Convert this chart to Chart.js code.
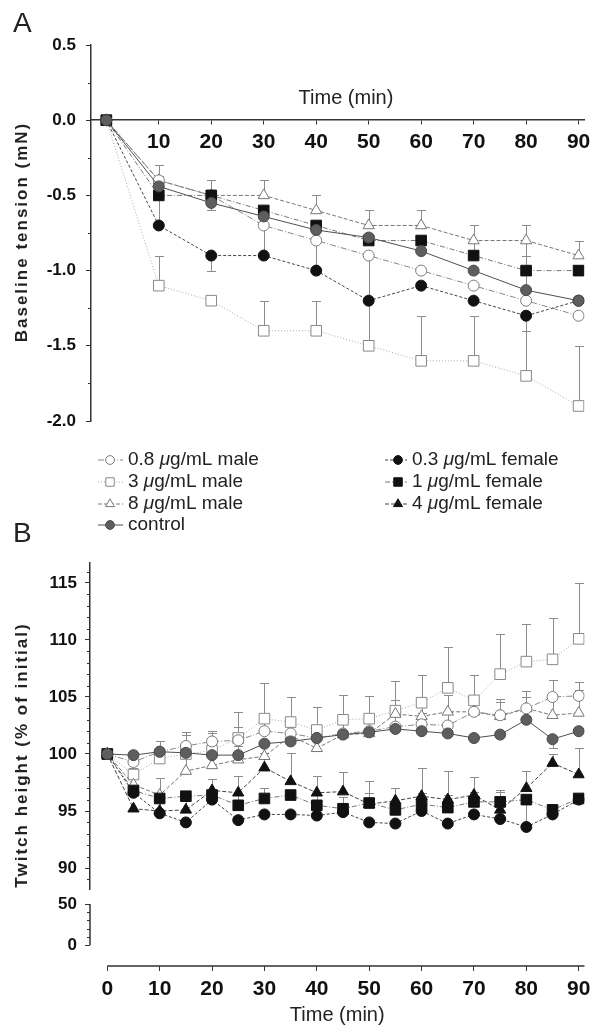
<!DOCTYPE html>
<html>
<head>
<meta charset="utf-8">
<script src="https://cdn.jsdelivr.net/npm/chart.js@4.4.1/dist/chart.umd.min.js"></script>
<style>
  body { margin: 0; background: #fff; width: 593px; height: 1031px; position: relative; overflow: hidden; }
  canvas { position: absolute; left: 0; }
  #chartA { top: 0; }
  #chartB { top: 540px; }
  .painel { position: absolute; left: 13px; font: 28px/28px "Liberation Sans", Arial, sans-serif; color: #222; }
</style>
</head>
<body>
<canvas id="chartA" width="593" height="540"></canvas>
<canvas id="chartB" width="593" height="491"></canvas>
<div class="painel" style="top:9px">A</div>
<div class="painel" style="top:519px">B</div>
<script>
// tempos (min)
const tempoA = [0, 10, 20, 30, 40, 50, 60, 70, 80, 90];
const tempoB = [0, 5, 10, 15, 20, 25, 30, 35, 40, 45, 50, 55, 60, 65, 70, 75, 80, 85, 90];

// Painel A - tensao basal (mN)
const controleA = [0, -0.44, -0.55, -0.64, -0.73, -0.78, -0.87, -1.0, -1.13, -1.2];
const macho08A  = [0, -0.4, -0.5, -0.7, -0.8, -0.9, -1.0, -1.1, -1.2, -1.3];
const macho3A   = [0, -1.1, -1.2, -1.4, -1.4, -1.5, -1.6, -1.6, -1.7, -1.9];
const macho8A   = [0, -0.4, -0.5, -0.5, -0.6, -0.7, -0.7, -0.8, -0.8, -0.9];
const femea03A  = [0, -0.7, -0.9, -0.9, -1.0, -1.2, -1.1, -1.2, -1.3, -1.2];
const femea1A   = [0, -0.5, -0.5, -0.6, -0.7, -0.8, -0.8, -0.9, -1.0, -1.0];

// erros (SEM) do painel A: positivo = barra pra cima, negativo = pra baixo
const erroControleA = [0, 0, -0.05, 0, 0, 0, 0, 0, 0.23, 0];
const erroMacho08A  = [0, 0, 0, -0.2, -0.2, 0, 0, 0, 0, 0];
const erroMacho3A   = [0, 0.2, 0, 0.2, 0.2, 0.6, 0.3, 0.3, 0.3, 0.4];
const erroMacho8A   = [0, 0.03, 0.1, 0.1, 0.1, 0.1, 0.1, 0.1, 0.1, 0.1];
const erroFemea03A  = [0, 0.4, -0.1, 0, 0, 0, 0, 0, -0.1, 0];
const erroFemea1A   = [0, 0, 0, 0, 0, 0, 0, 0.2, 0.3, 0];

// Painel B - altura do twitch (% do inicial)
const controleB = [100, 99.9, 100.2, 100.1, 99.9, 99.9, 100.9, 101.1, 101.4, 101.7, 101.9, 102.2, 102.0, 101.8, 101.4, 101.7, 103.0, 101.3, 102.0];
const macho08B  = [100, 99.3, 100.2, 100.7, 101.1, 101.2, 102.0, 101.8, 101.4, 101.8, 102.0, 102.4, 102.6, 102.5, 103.7, 103.4, 104.0, 105.0, 105.1];
const macho3B   = [100, 98.2, 99.6, 100.0, 100.3, 101.4, 103.1, 102.8, 102.1, 103.0, 103.1, 103.8, 104.5, 105.8, 104.7, 107.0, 108.1, 108.3, 110.1];
const macho8B   = [100, 97.3, 96.4, 98.5, 99.0, 99.5, 99.8, 101.6, 100.5, 101.7, 101.8, 103.5, 103.3, 103.7, 103.7, 103.3, 104.0, 103.4, 103.6];
const femea03B  = [100, 96.6, 94.8, 94.0, 96.0, 94.2, 94.7, 94.7, 94.6, 94.9, 94.0, 93.9, 95.0, 93.9, 94.7, 94.3, 93.6, 94.7, 96.0];
const femea1B   = [100, 96.8, 96.1, 96.3, 96.4, 95.5, 96.1, 96.4, 95.5, 95.2, 95.7, 95.1, 95.6, 95.3, 95.8, 95.8, 96.0, 95.1, 96.1];
const femea4B   = [100, 95.2, 95.0, 95.1, 96.8, 96.6, 98.8, 97.6, 96.6, 96.7, 95.6, 95.9, 96.3, 96.0, 96.4, 95.1, 97.0, 99.2, 98.2];

const erroControleB = [0, 0.3, 0.3, 0.3, 0.3, 0.3, 0.3, 0.3, 0.3, 0.3, 0.3, 0.3, 0.3, 0.3, 0.3, 0.3, 0.3, -0.8, 0.3];
const erroMacho08B  = [0, 0.5, 0.9, 1.2, 0.9, 1.2, 1.0, 1.0, 1.0, 1.0, 1.0, 1.0, 1.0, 1.2, 1.0, 1.2, 1.0, 1.5, 1.2];
const erroMacho3B   = [0, 0.6, 1.5, 1.7, 1.5, 2.3, 3.1, 2.2, 2.0, 2.2, 2.0, 2.6, 2.4, 3.6, 2.2, 3.5, 3.3, 3.6, 4.9];
const erroMacho8B   = [0, 0.6, 1.5, 1.2, 1.0, 1.2, 1.2, 1.5, 1.5, 1.5, 1.2, 1.2, 1.2, 1.5, 1.5, 1.5, 1.5, 1.8, 2.0];
const erroFemea1B   = [0, 0, 0, 0, 0, 0.9, 0.9, 0, 0.9, 1.0, 0.9, 0.8, 1.0, 1.1, 0.9, 0.9, -2.4, 0, 0];
const erroFemea4B   = [0, 0, 1.5, 1.5, 1.0, 1.5, 1.3, 2.5, 1.5, 1.7, 2.0, 1.1, 2.5, 2.5, 1.6, 1.7, 1.5, 0.8, 2.3];

// ticks
const ticksXA = [10, 20, 30, 40, 50, 60, 70, 80, 90];
const ticksYA = [0.5, 0.0, -0.5, -1.0, -1.5, -2.0];
const menoresYA = [0.25, -0.25, -0.75, -1.25, -1.75];
const ticksXB = [0, 10, 20, 30, 40, 50, 60, 70, 80, 90];
const ticksYB = [90, 95, 100, 105, 110, 115];
const menoresYB = [89, 91, 92, 93, 94, 96, 97, 98, 99, 101, 102, 103, 104, 106, 107, 108, 109, 111, 112, 113, 114, 116];
const ticksYB2 = [0, 50];
const menoresYB2 = [10, 20, 30, 40];

// legenda
const legendaEsq = ['0.8 μg/mL male', '3 μg/mL male', '8 μg/mL male', 'control'];
const legendaDir = ['0.3 μg/mL female', '1 μg/mL female', '4 μg/mL female'];

const fam = '"Liberation Sans", Arial, sans-serif';
const fonteX = { family: fam, size: 21, weight: 'bold' };
const fonteY = { family: fam, size: 17, weight: 'bold' };

const estilos = {
  controle: { ponto: 'circle',   raio: 5.5, fundo: '#5e5e5e', borda: '#4a4a4a', linha: '#4f4f4f', dash: [] },
  m08:      { ponto: 'circle',   raio: 5.5, fundo: '#ffffff', borda: '#7a7a7a', linha: '#888888', dash: [6, 2, 1, 2] },
  m3:       { ponto: 'rect',     raio: 7.5, fundo: '#ffffff', borda: '#888888', linha: '#aaaaaa', dash: [1, 2] },
  m8:       { ponto: 'triangle', raio: 6.5, fundo: '#ffffff', borda: '#777777', linha: '#777777', dash: [4, 2] },
  f03:      { ponto: 'circle',   raio: 5.5, fundo: '#111111', borda: '#111111', linha: '#444444', dash: [3, 2] },
  f1:       { ponto: 'rect',     raio: 7.5, fundo: '#111111', borda: '#111111', linha: '#777777', dash: [5, 2, 1, 2] },
  f4:       { ponto: 'triangle', raio: 6.5, fundo: '#111111', borda: '#111111', linha: '#444444', dash: [4, 2] }
};

function serie(chave, tempos, valores, erros) {
  const e = estilos[chave];
  return {
    label: chave,
    data: tempos.map((t, i) => ({ x: t, y: valores[i] })),
    erros: erros,
    yAxisID: 'y',
    borderColor: e.linha,
    borderWidth: 1,
    borderDash: e.dash,
    pointStyle: e.ponto,
    pointRadius: e.raio,
    pointBackgroundColor: e.fundo,
    pointBorderColor: e.borda,
    pointBorderWidth: 1,
    fill: false,
    tension: 0
  };
}

// barras de erro desenhadas com as escalas do grafico
const barrasErro = {
  id: 'barrasErro',
  beforeDatasetsDraw(chart) {
    const ctx = chart.ctx;
    ctx.save();
    ctx.strokeStyle = '#8c8c8c';
    ctx.lineWidth = 1;
    chart.data.datasets.forEach((ds, i) => {
      if (!ds.erros) return;
      const meta = chart.getDatasetMeta(i);
      const escala = chart.scales[meta.yAxisID];
      meta.data.forEach((pt, j) => {
        const e = ds.erros[j];
        if (!e) return;
        const v = ds.data[j].y;
        const x = Math.round(pt.x) + 0.5;
        const y0 = escala.getPixelForValue(v);
        const y1 = Math.round(escala.getPixelForValue(v + e)) + 0.5;
        ctx.beginPath();
        ctx.moveTo(x, y0);
        ctx.lineTo(x, y1);
        ctx.moveTo(x - 4.5, y1);
        ctx.lineTo(x + 4.5, y1);
        ctx.stroke();
      });
    });
    ctx.restore();
  }
};

function tiquesMenores(lista) {
  return {
    id: 'tiquesMenores',
    afterDraw(chart) {
      const ctx = chart.ctx;
      ctx.save();
      ctx.strokeStyle = '#333';
      ctx.lineWidth = 1;
      lista.forEach(item => {
        const s = chart.scales[item.eixo];
        item.valores.forEach(v => {
          const y = Math.round(s.getPixelForValue(v)) + 0.5;
          ctx.beginPath();
          ctx.moveTo(s.right - item.comp, y);
          ctx.lineTo(s.right, y);
          ctx.stroke();
        });
      });
      ctx.restore();
    }
  };
}

function textos(lista) {
  return {
    id: 'textos',
    afterDraw(chart) {
      const ctx = chart.ctx;
      lista.forEach(t => {
        ctx.save();
        ctx.translate(t.x, t.y);
        if (t.girar) ctx.rotate(-Math.PI / 2);
        ctx.font = t.fonte;
        ctx.letterSpacing = t.espaco || '0px';
        ctx.textAlign = 'center';
        ctx.textBaseline = 'middle';
        ctx.fillStyle = '#222';
        ctx.fillText(t.texto, 0, 0);
        ctx.restore();
      });
    }
  };
}

function escreveMu(ctx, txt, x, y, fonte) {
  const partes = txt.split('μ');
  ctx.font = fonte;
  ctx.fillText(partes[0], x, y);
  if (partes.length < 2) return;
  x += ctx.measureText(partes[0]).width;
  ctx.font = 'italic ' + fonte;
  ctx.fillText('μ', x, y);
  x += ctx.measureText('μ').width;
  ctx.font = fonte;
  ctx.fillText(partes[1], x, y);
}

const legendaA = {
  id: 'legendaA',
  afterDraw(chart) {
    const ctx = chart.ctx;
    const linhasY = [460, 482, 504, 525];
    const colunas = [
      { x0: 98, x1: 123, xm: 110, xt: 128, chaves: ['m08', 'm3', 'm8', 'controle'], rotulos: legendaEsq },
      { x0: 385, x1: 407, xm: 398, xt: 412, chaves: ['f03', 'f1', 'f4'], rotulos: legendaDir }
    ];
    ctx.save();
    colunas.forEach(col => {
      col.chaves.forEach((k, i) => {
        const e = estilos[k];
        const y = linhasY[i];
        ctx.strokeStyle = e.linha;
        ctx.lineWidth = 1;
        ctx.setLineDash(e.dash.length ? e.dash : []);
        ctx.beginPath();
        ctx.moveTo(col.x0, y);
        ctx.lineTo(col.x1, y);
        ctx.stroke();
        ctx.setLineDash([]);
        ctx.fillStyle = e.fundo;
        ctx.strokeStyle = e.borda;
        Chart.helpers.drawPoint(ctx, { pointStyle: e.ponto, radius: e.raio * 0.8, borderWidth: 1, rotation: 0 }, col.xm, y);
        ctx.fillStyle = '#222';
        ctx.textBaseline = 'middle';
        ctx.textAlign = 'left';
        escreveMu(ctx, col.rotulos[i], col.xt, y, '19px ' + fam);
      });
    });
    ctx.restore();
  }
};

const eixosB = {
  id: 'eixosB',
  afterDraw(chart) {
    const { ctx, scales: { x, y2 } } = chart;
    ctx.save();
    ctx.strokeStyle = '#333';
    ctx.lineWidth = 1.5;
    ctx.beginPath();
    ctx.moveTo(y2.right, y2.getPixelForValue(50));
    ctx.lineTo(y2.right, y2.getPixelForValue(0));
    ctx.moveTo(x.getPixelForValue(0), x.top);
    ctx.lineTo(x.right, x.top);
    ctx.stroke();
    ctx.restore();
  }
};

const gradeTiques = { drawOnChartArea: false, tickLength: 5, color: '#333', tickWidth: 1 };

new Chart(document.getElementById('chartA'), {
  type: 'line',
  data: {
    datasets: [
      serie('controle', tempoA, controleA, erroControleA),
      serie('f03', tempoA, femea03A, erroFemea03A),
      serie('f1', tempoA, femea1A, erroFemea1A),
      serie('m08', tempoA, macho08A, erroMacho08A),
      serie('m8', tempoA, macho8A, erroMacho8A),
      serie('m3', tempoA, macho3A, erroMacho3A)
    ]
  },
  options: {
    responsive: false,
    animation: false,
    devicePixelRatio: 1,
    layout: { padding: { top: 45, right: 3, bottom: 119, left: 0 } },
    plugins: { legend: { display: false }, tooltip: { enabled: false } },
    scales: {
      x: {
        type: 'linear', min: -2.92, max: 91.13, position: { y: 0 },
        afterBuildTicks: s => { s.ticks = ticksXA.map(v => ({ value: v })); },
        afterFit: s => { s.paddingLeft = 0; s.paddingRight = 0; },
        grid: { ...gradeTiques, tickLength: 4 },
        border: { color: '#333', width: 1.5 },
        ticks: { padding: 5, color: '#111', font: fonteX, maxRotation: 0, autoSkip: false }
      },
      y: {
        type: 'linear', min: -2.0, max: 0.5,
        afterBuildTicks: s => { s.ticks = ticksYA.map(v => ({ value: v })); },
        afterFit: s => { s.width = 91; },
        grid: gradeTiques,
        border: { color: '#333', width: 1.5 },
        ticks: { padding: 10, color: '#111', font: fonteY, callback: v => v.toFixed(1) }
      }
    }
  },
  plugins: [
    barrasErro,
    tiquesMenores([{ eixo: 'y', valores: menoresYA, comp: 3 }]),
    textos([
      { texto: 'Time (min)', x: 346, y: 98, fonte: '20px ' + fam },
      { texto: 'Baseline tension (mN)', x: 22, y: 232, fonte: 'bold 17px ' + fam, espaco: '2px', girar: true }
    ]),
    legendaA
  ]
});

new Chart(document.getElementById('chartB'), {
  type: 'line',
  data: {
    datasets: [
      serie('controle', tempoB, controleB, erroControleB),
      serie('f03', tempoB, femea03B, null),
      serie('f1', tempoB, femea1B, erroFemea1B),
      serie('f4', tempoB, femea4B, erroFemea4B),
      serie('m08', tempoB, macho08B, erroMacho08B),
      serie('m8', tempoB, macho8B, erroMacho8B),
      serie('m3', tempoB, macho3B, erroMacho3B)
    ]
  },
  options: {
    responsive: false,
    animation: false,
    devicePixelRatio: 1,
    layout: { padding: { top: 23, right: 3, bottom: 0, left: 0 } },
    plugins: { legend: { display: false }, tooltip: { enabled: false } },
    scales: {
      x: {
        type: 'linear', min: -3.3, max: 91.1, position: 'bottom',
        afterBuildTicks: s => { s.ticks = ticksXB.map(v => ({ value: v })); },
        afterFit: s => { s.height = 65; s.paddingLeft = 0; s.paddingRight = 0; },
        grid: gradeTiques,
        border: { display: false },
        ticks: { padding: 6, color: '#111', font: fonteX, maxRotation: 0, autoSkip: false },
        title: { display: true, text: 'Time (min)', color: '#222', font: { family: fam, size: 20 }, padding: { top: 0, bottom: 4 } }
      },
      y2: {
        type: 'linear', position: 'left', stack: 'b', stackWeight: 77, min: -25.6, max: 68.3,
        afterBuildTicks: s => { s.ticks = ticksYB2.map(v => ({ value: v })); },
        afterFit: s => { s.width = 90; },
        grid: gradeTiques,
        border: { display: false },
        ticks: { padding: 8, color: '#111', font: fonteY }
      },
      y: {
        type: 'linear', position: 'left', stack: 'b', stackWeight: 326, min: 88.16, max: 116.75,
        afterBuildTicks: s => { s.ticks = ticksYB.map(v => ({ value: v })); },
        afterFit: s => { s.width = 90; },
        grid: gradeTiques,
        border: { color: '#333', width: 1.5 },
        ticks: { padding: 8, color: '#111', font: fonteY }
      }
    }
  },
  plugins: [
    barrasErro,
    tiquesMenores([{ eixo: 'y', valores: menoresYB, comp: 3 }, { eixo: 'y2', valores: menoresYB2, comp: 3 }]),
    textos([
      { texto: 'Twitch height (% of initial)', x: 22, y: 215, fonte: 'bold 17px ' + fam, espaco: '2px', girar: true }
    ]),
    eixosB
  ]
});
</script>
</body>
</html>
